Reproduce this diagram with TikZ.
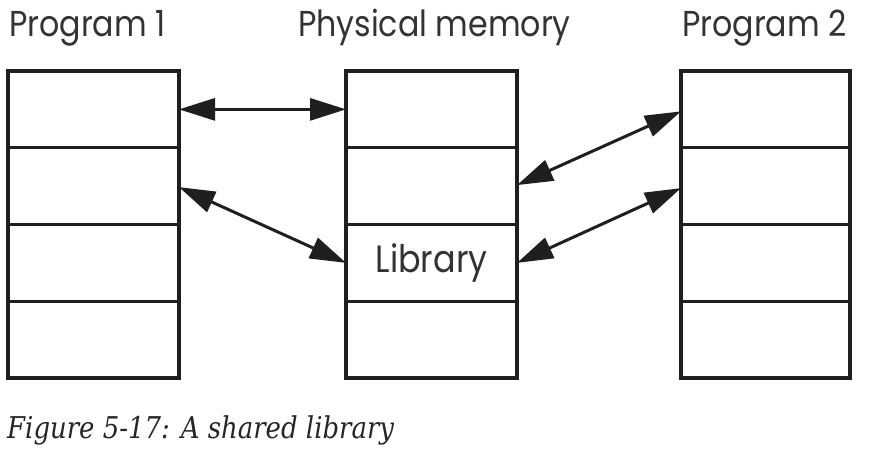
\documentclass[tikz,border=0pt]{standalone}
\usepackage{fontspec}
\usetikzlibrary{arrows.meta,calc}
\newfontfamily\titlefont[FakeStretch=0.88]{Poppins}
\newfontfamily\capfont[FakeStretch=0.865]{DejaVu Serif}
\begin{document}
\begin{tikzpicture}[x=1pt,y=-1pt,
  cell/.style={draw=black!88, line width=3.5pt, minimum width=171pt, minimum height=76.75pt, inner sep=0pt, outer sep=0pt, anchor=north west},
  title/.style={font=\titlefont\fontsize{36}{40}\selectfont, text=black!80, anchor=base west, inner sep=0pt},
  link/.style={line width=3pt, draw=black!88, {Triangle[length=36pt,width=22pt]}-{Triangle[length=36pt,width=22pt]}}
]
\useasboundingbox (0,0) rectangle (888,454);
\fill[white] (0,0) rectangle (888,454);
% Program 1
\node[cell] (p1a) at (8,71) {};
\node[cell] (p1b) at (8,147.75) {};
\node[cell] (p1c) at (8,224.5) {};
\node[cell] (p1d) at (8,301.25) {};
% Physical memory
\node[cell] (ma) at (346,71) {};
\node[cell] (mb) at (346,147.75) {};
\node[cell, font=\titlefont\fontsize{38}{40}\selectfont, text=black!80, text height=27pt, text depth=7pt] (mc) at (346,224.5) {Library};
\node[cell] (md) at (346,301.25) {};
% Program 2
\node[cell, minimum width=169pt] (p2a) at (681,71) {};
\node[cell, minimum width=169pt] (p2b) at (681,147.75) {};
\node[cell, minimum width=169pt] (p2c) at (681,224.5) {};
\node[cell, minimum width=169pt] (p2d) at (681,301.25) {};
% titles
\node[title] (t1) at (9,37) {Program 1};
\node[title] (t2) at (298,37) {Physical memory};
\node[title] (t3) at (682,37) {Program 2};
% arrows
\draw[link] (p1a.east) -- (ma.west);
\draw[link] ($(p1b.east)+(0,1)$) -- (mc.west);
\draw[link] ($(p2a.west)+(0,2)$) -- ($(mb.east)+(0,-1)$);
\draw[link] ($(p2b.west)+(0,2)$) -- (mc.east);
% caption
\node[font=\capfont\itshape\fontsize{30}{34}\selectfont, text=black!85, anchor=base west, inner sep=0pt] (cap) at (7,438) {Figure 5-17: A shared library};
\end{tikzpicture}
\end{document}
